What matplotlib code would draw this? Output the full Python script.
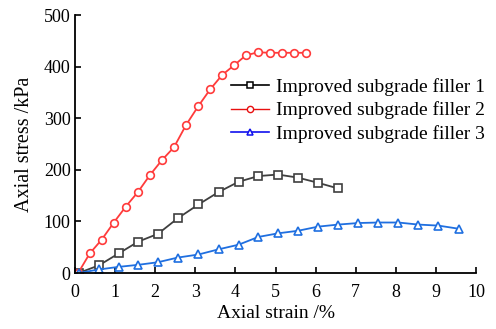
import matplotlib
matplotlib.use("Agg")
import matplotlib.pyplot as plt
from matplotlib.lines import Line2D

plt.rcParams['font.family'] = ['Liberation Serif', 'DejaVu Serif']
plt.rcParams['mathtext.fontset'] = 'stix'

# Data
x_red = [0.08, 0.37, 0.67, 0.97, 1.27, 1.57, 1.87, 2.17, 2.47, 2.77, 3.07, 3.37,
         3.67, 3.97, 4.26, 4.56, 4.86, 5.16, 5.46, 5.76]
y_red = [0, 38, 65, 98, 129, 157, 190, 219, 244, 287, 323, 356,
         384, 403, 422, 428, 427, 427, 427, 427]

x_black = [0.09, 0.6, 1.09, 1.58, 2.07, 2.56, 3.08, 3.58, 4.08, 4.57, 5.06, 5.56, 6.06, 6.56]
y_black = [0, 15, 38, 61, 76, 106, 133, 157, 177, 188, 191, 185, 175, 164]

x_blue = [0.09, 0.6, 1.09, 1.58, 2.07, 2.56, 3.08, 3.58, 4.08, 4.57, 5.06, 5.56,
          6.06, 6.56, 7.06, 7.56, 8.06, 8.56, 9.06, 9.56]
y_blue = [0, 7, 12, 16, 21, 30, 36, 46, 55, 70, 77, 82,
          90, 94, 97, 98, 98, 94, 92, 86]

labels = ["Improved subgrade filler 1", "Improved subgrade filler 2", "Improved subgrade filler 3"]
x_ticks = list(range(0, 11))
y_ticks = list(range(0, 501, 100))

fig = plt.figure(figsize=(4.96, 3.29), dpi=100)
ax = fig.add_axes([0.151, 0.170, 0.809, 0.784])

ax.plot(x_black, y_black, color='#3f3f3f', lw=1.3, marker='s', ms=5.5,
        mfc='white', mec='#3f3f3f', mew=1.2)
ax.plot(x_red, y_red, color='#ff3b3b', lw=1.3, marker='o', ms=5.5,
        mfc='white', mec='#ff3b3b', mew=1.2)
ax.plot(x_blue, y_blue, color='#1f6fe0', lw=1.3, marker='^', ms=6,
        mfc='white', mec='#1f6fe0', mew=1.2)

ax.set_xlim(0, 10)
ax.set_ylim(0, 500)
ax.set_xticks(x_ticks)
ax.set_yticks(y_ticks)
ax.tick_params(direction='in', length=4, width=1.2, labelsize=13, colors='black')
ax.tick_params(axis='x', pad=8)
ax.tick_params(axis='y', pad=3)
ax.spines['top'].set_visible(False)
ax.spines['right'].set_visible(False)
for s in ['left', 'bottom']:
    ax.spines[s].set_linewidth(1.3)

ax.set_xlabel("Axial strain /%", fontsize=14, labelpad=3)
ax.set_ylabel("Axial stress /kPa", fontsize=14.5, labelpad=7)

handles = [
    Line2D([], [], color='black', lw=1.2, marker='s', ms=4.5, mfc='white', mec='black', mew=1.1),
    Line2D([], [], color='#e81010', lw=1.0, marker='o', ms=4.5, mfc='white', mec='#e81010', mew=1.0),
    Line2D([], [], color='#1010ee', lw=1.2, marker='^', ms=5, mfc='white', mec='#1010ee', mew=1.1),
]
fig.legend(handles, labels, loc='upper left', bbox_to_anchor=(0.466, 0.762), frameon=False,
           fontsize=14, handlelength=1.95, handletextpad=0.36,
           labelspacing=0.28, borderpad=0, borderaxespad=0)

fig.savefig("out.png", dpi=100)
